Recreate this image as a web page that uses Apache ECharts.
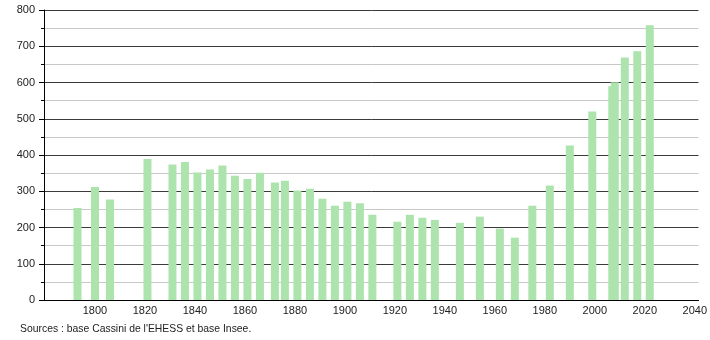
<!DOCTYPE html>
<html>
<head>
<meta charset="utf-8">
<script src="https://cdn.jsdelivr.net/npm/echarts@6/dist/echarts.min.js"></script>
<style>
html,body{margin:0;padding:0;background:#fff;}
#c{width:710px;height:340px;}
</style>
</head>
<body>
<div id="c"></div>
<script>
var years = [1793,1800,1806,1821,1831,1836,1841,1846,1851,1856,1861,1866,1872,1876,1881,1886,1891,1896,1901,1906,1911,1921,1926,1931,1936,1946,1954,1962,1968,1975,1982,1990,1999,2007,2008,2012,2017,2022];
var population = [254,312,277,389,374,381,352,360,371,343,334,351,324,329,302,307,279,260,271,267,235,216,235,227,221,213,230,197,172,260,316,426,520,590,601,669,686,758];
var xTickLabels = [1800,1820,1840,1860,1880,1900,1920,1940,1960,1980,2000,2020,2040];
var sourceText = "Sources : base Cassini de l'EHESS et base Insee.";

var seriesData = years.map(function(y, i){ return [y, population[i]]; });
var font = "'Liberation Sans', Arial, sans-serif";

var chart = echarts.init(document.getElementById('c'), null, {renderer:'canvas'});
chart.setOption({
  animation: false,
  backgroundColor: '#ffffff',
  grid: {left: 44, right: 10, top: 10, bottom: 40, containLabel: false},
  xAxis: {
    type: 'value',
    min: 1779.6,
    max: 2041.5,
    axisLine: {show: true, onZero: false, lineStyle: {color: '#000', width: 1}},
    axisTick: {show: false},
    splitLine: {show: false},
    axisLabel: {
      customValues: xTickLabels,
      color: '#222',
      fontFamily: font,
      fontSize: 11,
      margin: 5,
      formatter: function(v){ return String(v); }
    }
  },
  yAxis: {
    type: 'value',
    min: 0,
    max: 800,
    interval: 100,
    axisLine: {show: true, lineStyle: {color: '#000', width: 1}},
    axisTick: {show: true, length: 5, lineStyle: {color: '#000'}},
    minorTick: {show: true, splitNumber: 2, length: 3, lineStyle: {color: '#000'}},
    splitLine: {show: true, lineStyle: {color: '#3a3a3a', width: 1}},
    minorSplitLine: {show: true, lineStyle: {color: '#c8c8c8', width: 1}},
    axisLabel: {color: '#222', fontFamily: font, fontSize: 11, margin: 9}
  },
  series: [{
    type: 'bar',
    data: seriesData,
    barWidth: 8,
    itemStyle: {color: '#ade3ad'},
    z: 3
  }],
  graphic: [{
    type: 'text',
    left: 20,
    top: 324,
    style: {text: sourceText, fill: '#222', font: '10.4px ' + font}
  }]
});
</script>
</body>
</html>
